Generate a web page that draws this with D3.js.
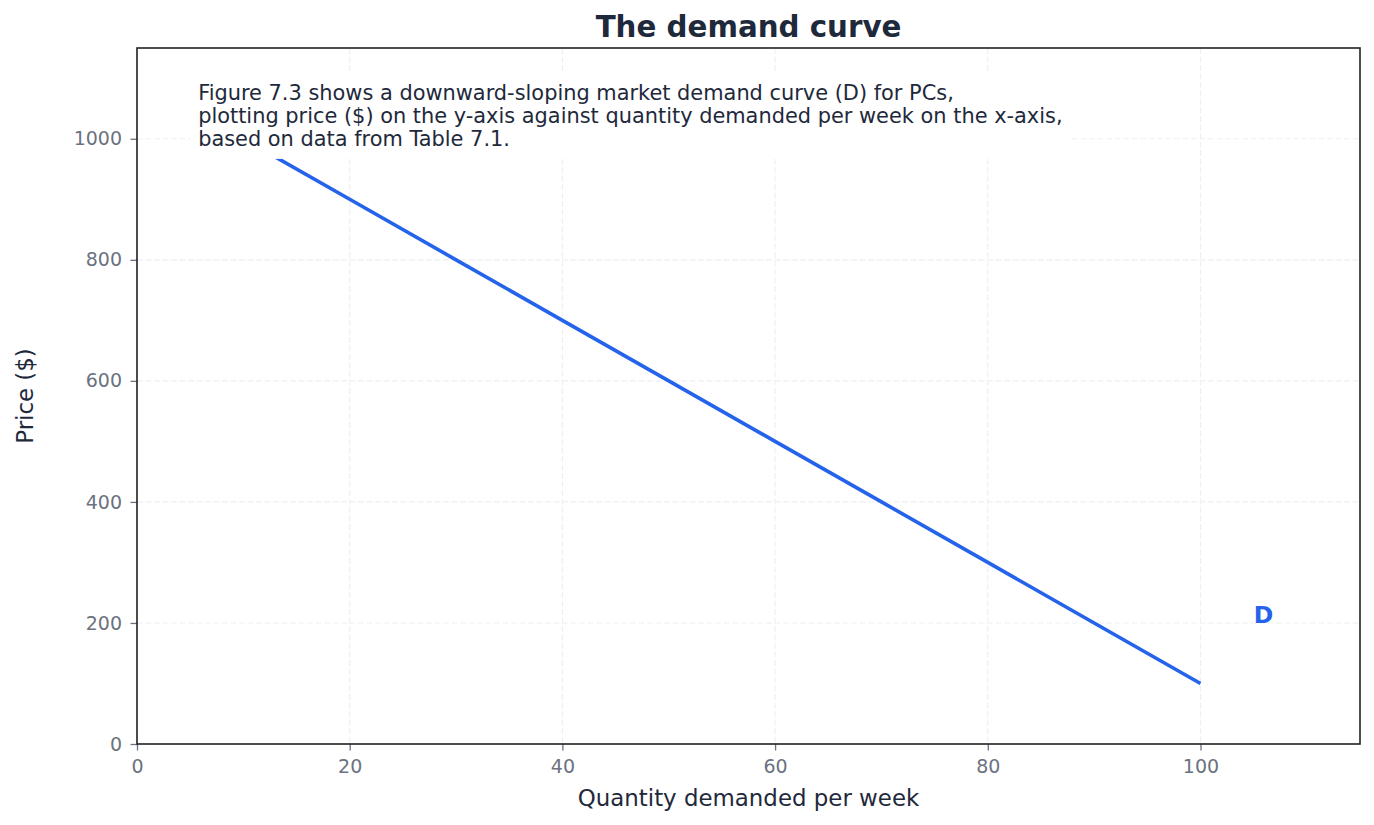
<!DOCTYPE html>
<html>
<head>
<meta charset="utf-8">
<script src="https://cdn.jsdelivr.net/npm/d3@7"></script>
<style>
  body { margin: 0; background: #fff; }
  svg { font-family: "DejaVu Sans", sans-serif; }
</style>
</head>
<body>
<div id="chart"></div>
<script>
// Table 7.1 - demand schedule for PCs
var quantity = [10, 20, 30, 40, 50, 60, 70, 80, 90, 100];
var price = [1000, 900, 800, 700, 600, 500, 400, 300, 200, 100];
var xTicks = [0, 20, 40, 60, 80, 100];
var yTicks = [0, 200, 400, 600, 800, 1000];
var noteLines = [
    "Figure 7.3 shows a downward-sloping market demand curve (D) for PCs,",
    "plotting price ($) on the y-axis against quantity demanded per week on the x-axis,",
    "based on data from Table 7.1."
];

var margin = {top: 48, right: 14, bottom: 81, left: 137},
    width = 1374 - margin.left - margin.right,
    height = 825 - margin.top - margin.bottom;

var svg = d3.select("#chart").append("svg")
    .attr("width", 1374)
    .attr("height", 825);

var g = svg.append("g")
    .attr("transform", "translate(" + margin.left + "," + margin.top + ")");

var x = d3.scaleLinear().domain([0, 115]).range([0, width]);
var y = d3.scaleLinear().domain([0, 1150]).range([height, 0]);

// grid
g.selectAll("line.gx").data(xTicks).enter().append("line")
    .attr("class", "gx")
    .attr("x1", function(d) { return x(d); })
    .attr("x2", function(d) { return x(d); })
    .attr("y1", 0).attr("y2", height)
    .attr("stroke", "#eeeff1").attr("stroke-width", 1.1)
    .attr("stroke-dasharray", "6,2.5");

g.selectAll("line.gy").data(yTicks).enter().append("line")
    .attr("class", "gy")
    .attr("y1", function(d) { return y(d); })
    .attr("y2", function(d) { return y(d); })
    .attr("x1", 0).attr("x2", width)
    .attr("stroke", "#eeeff1").attr("stroke-width", 1.1)
    .attr("stroke-dasharray", "6,2.5");

// demand curve
var line = d3.line()
    .x(function(d, i) { return x(quantity[i]); })
    .y(function(d) { return y(d); });

g.append("path")
    .datum(price)
    .attr("d", line)
    .attr("fill", "none")
    .attr("stroke", "#2563eb")
    .attr("stroke-width", 3.6);

// annotation with white box
var note = g.append("g");
var noteBox = note.append("rect").attr("fill", "#fff");
var noteText = note.append("text")
    .attr("x", width * 0.05)
    .attr("y", 52)
    .attr("fill", "#1e293b")
    .attr("font-size", 20.9);

noteText.selectAll("tspan").data(noteLines).enter().append("tspan")
    .attr("x", width * 0.05)
    .attr("dy", function(d, i) { return i === 0 ? 0 : 23.2; })
    .text(function(d) { return d; });

var bb = noteText.node().getBBox();
noteBox.attr("x", bb.x - 8).attr("y", bb.y - 7.5)
    .attr("width", bb.width + 16).attr("height", bb.height + 15);

// D label
g.append("text")
    .attr("x", x(105))
    .attr("y", y(200))
    .attr("fill", "#2563eb")
    .attr("font-size", 23.5)
    .attr("font-weight", "bold")
    .text("D");

// axes
var xAxis = g.append("g")
    .attr("transform", "translate(0," + height + ")")
    .call(d3.axisBottom(x).tickValues(xTicks).tickFormat(d3.format("d")).tickSize(6.5).tickPadding(9.5));

var yAxis = g.append("g")
    .call(d3.axisLeft(y).tickValues(yTicks).tickFormat(d3.format("d")).tickSize(6.5).tickPadding(8.5));

[xAxis, yAxis].forEach(function(a) {
    a.select(".domain").remove();
    a.selectAll(".tick line").attr("stroke", "#6b7280").attr("stroke-width", 1.3);
    a.selectAll(".tick text").attr("fill", "#6b7280")
        .attr("font-size", 19).attr("font-family", "DejaVu Sans");
});

// frame
g.append("rect")
    .attr("width", width).attr("height", height)
    .attr("fill", "none")
    .attr("stroke", "#222")
    .attr("stroke-width", 1.6);

// labels
svg.append("text")
    .attr("x", margin.left + width / 2)
    .attr("y", 37)
    .attr("text-anchor", "middle")
    .attr("fill", "#1e293b")
    .attr("font-size", 29.3)
    .attr("font-weight", "bold")
    .text("The demand curve");

svg.append("text")
    .attr("x", margin.left + width / 2)
    .attr("y", 806)
    .attr("text-anchor", "middle")
    .attr("fill", "#1e293b")
    .attr("font-size", 22.9)
    .text("Quantity demanded per week");

svg.append("text")
    .attr("transform", "translate(33," + (margin.top + height / 2) + ") rotate(-90)")
    .attr("text-anchor", "middle")
    .attr("fill", "#1e293b")
    .attr("font-size", 22.9)
    .text("Price ($)");
</script>
</body>
</html>
